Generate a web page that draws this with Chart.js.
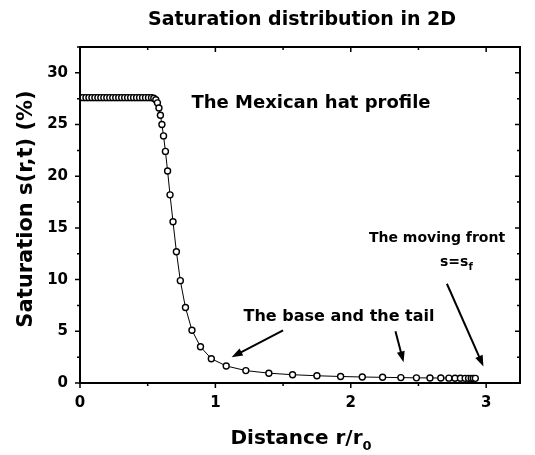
<!DOCTYPE html>
<html>
<head>
<meta charset="utf-8">
<script src="https://cdn.jsdelivr.net/npm/chart.js@4"></script>
<style>
  html, body { margin: 0; padding: 0; background: #fff; }
  #wrap { width: 535px; height: 455px; position: relative; }
</style>
</head>
<body>
<div id="wrap"><canvas id="c" width="535" height="455"></canvas></div>
<script>
// Distance r/r0
const distance = [
  0, 0.022, 0.044, 0.066, 0.088, 0.110, 0.132, 0.154, 0.176, 0.198,
  0.220, 0.242, 0.264, 0.286, 0.308, 0.330, 0.352, 0.374, 0.396, 0.418,
  0.440, 0.462, 0.484, 0.506, 0.528, 0.545, 0.560, 0.572, 0.583, 0.594,
  0.605, 0.617, 0.631, 0.647, 0.665, 0.687, 0.712, 0.741, 0.779, 0.827,
  0.890, 0.970, 1.080, 1.225, 1.395, 1.570, 1.750, 1.925, 2.085, 2.235,
  2.370, 2.485, 2.585, 2.665, 2.725, 2.770, 2.810, 2.845, 2.870, 2.890,
  2.905, 2.920
];
// Saturation s(r,t) (%)
const saturation = [
  27.6, 27.6, 27.6, 27.6, 27.6, 27.6, 27.6, 27.6, 27.6, 27.6,
  27.6, 27.6, 27.6, 27.6, 27.6, 27.6, 27.6, 27.6, 27.6, 27.6,
  27.6, 27.6, 27.6, 27.6, 27.6, 27.55, 27.4, 27.1, 26.6, 25.9,
  25.0, 23.9, 22.4, 20.5, 18.2, 15.6, 12.7, 9.9, 7.3, 5.1,
  3.5, 2.35, 1.65, 1.2, 0.95, 0.8, 0.7, 0.63, 0.58, 0.55,
  0.52, 0.50, 0.49, 0.48, 0.47, 0.46, 0.46, 0.45, 0.45, 0.45,
  0.45, 0.45
];
const xTickLabels = ['0', '1', '2', '3'];
const yTickLabels = ['0', '5', '10', '15', '20', '25', '30'];

const points = distance.map((d, i) => ({ x: d, y: saturation[i] }));
const FONT = '"DejaVu Sans", Verdana, sans-serif';

const framePlugin = {
  id: 'frame',
  afterDraw(chart) {
    const ctx = chart.ctx;
    const a = chart.chartArea;
    const xs = chart.scales.x, ys = chart.scales.y;
    ctx.save();
    ctx.strokeStyle = '#000';
    ctx.lineWidth = 2;
    ctx.strokeRect(a.left, a.top, a.right - a.left, a.bottom - a.top);
    ctx.lineWidth = 1.5;
    ctx.beginPath();
    for (let v = 0; v <= 3.25; v += 0.5) {
      const p = xs.getPixelForValue(v);
      const major = Math.abs(v - Math.round(v)) < 1e-6;
      const L = major ? 5 : 3;
      ctx.moveTo(p, a.bottom); ctx.lineTo(p, a.bottom + L);
      ctx.moveTo(p, a.top); ctx.lineTo(p, a.top + L);
    }
    for (let v = 0; v <= 32.5; v += 2.5) {
      const p = ys.getPixelForValue(v);
      const major = Math.abs(v / 5 - Math.round(v / 5)) < 1e-6;
      const L = major ? 5 : 3;
      ctx.moveTo(a.left, p); ctx.lineTo(a.left - L, p);
      ctx.moveTo(a.right, p); ctx.lineTo(a.right - L, p);
    }
    ctx.stroke();

    // Texts
    ctx.fillStyle = '#000';
    ctx.textBaseline = 'middle';
    ctx.textAlign = 'center';
    ctx.font = 'bold 19px ' + FONT;
    ctx.fillText('Saturation distribution in 2D', 302, 20);

    // x axis title with subscript
    ctx.textAlign = 'left';
    ctx.font = 'bold 20px ' + FONT;
    const t1 = 'Distance r/r';
    const w1 = ctx.measureText(t1).width;
    ctx.font = 'bold 13px ' + FONT;
    const w2 = ctx.measureText('0').width;
    const x0 = 301 - (w1 + w2) / 2;
    ctx.font = 'bold 20px ' + FONT;
    ctx.fillText(t1, x0, 439);
    ctx.font = 'bold 13px ' + FONT;
    ctx.fillText('0', x0 + w1, 447);

    // y axis title
    ctx.save();
    ctx.translate(27, 209);
    ctx.rotate(-Math.PI / 2);
    ctx.textAlign = 'center';
    ctx.font = 'bold 21px ' + FONT;
    ctx.fillText('Saturation s(r,t) (%)', 0, 0);
    ctx.restore();

    // Annotations
    ctx.textAlign = 'center';
    ctx.font = 'bold 18px ' + FONT;
    ctx.fillText('The Mexican hat profile', 311, 103);
    ctx.font = 'bold 14px ' + FONT;
    ctx.fillText('The moving front', 437, 238);
    ctx.font = 'bold 16px ' + FONT;
    ctx.fillText('The base and the tail', 339, 317);
    // s = s_f
    ctx.textAlign = 'left';
    ctx.font = 'bold 14px ' + FONT;
    const t3 = 's=s';
    const w3 = ctx.measureText(t3).width;
    ctx.fillText(t3, 440, 262);
    ctx.font = 'bold 10px ' + FONT;
    ctx.fillText('f', 440 + w3, 267);

    // Arrows (data coordinates)
    const arrow = (x1, y1, x2, y2) => {
      const px1 = xs.getPixelForValue(x1), py1 = ys.getPixelForValue(y1);
      const px2 = xs.getPixelForValue(x2), py2 = ys.getPixelForValue(y2);
      const ang = Math.atan2(py2 - py1, px2 - px1);
      const hl = 11, hw = 4;
      ctx.lineWidth = 2;
      ctx.beginPath();
      ctx.moveTo(px1, py1);
      ctx.lineTo(px2 - Math.cos(ang) * hl * 0.8, py2 - Math.sin(ang) * hl * 0.8);
      ctx.stroke();
      ctx.beginPath();
      ctx.moveTo(px2, py2);
      ctx.lineTo(px2 - Math.cos(ang) * hl - Math.sin(ang) * hw, py2 - Math.sin(ang) * hl + Math.cos(ang) * hw);
      ctx.lineTo(px2 - Math.cos(ang) * hl + Math.sin(ang) * hw, py2 - Math.sin(ang) * hl - Math.cos(ang) * hw);
      ctx.closePath();
      ctx.fill();
    };
    arrow(1.50, 5.1, 1.12, 2.5);
    arrow(2.33, 5.0, 2.39, 2.0);
    arrow(2.71, 9.6, 2.98, 1.6);
    ctx.restore();
  }
};

new Chart(document.getElementById('c'), {
  type: 'scatter',
  data: {
    datasets: [{
      data: points,
      showLine: true,
      borderColor: '#000',
      borderWidth: 1,
      pointRadius: 3,
      pointBorderWidth: 1.4,
      pointBackgroundColor: '#fff',
      pointBorderColor: '#000',
      tension: 0
    }]
  },
  options: {
    responsive: false,
    animation: false,
    devicePixelRatio: 1,
    layout: { padding: { left: 0, right: 15, top: 47, bottom: 0 } },
    plugins: { legend: { display: false }, tooltip: { enabled: false }, title: { display: false } },
    scales: {
      x: {
        type: 'linear',
        min: 0, max: 3.25,
        grid: { display: false, drawTicks: true, tickLength: 5 },
        border: { display: false },
        afterBuildTicks: (s) => { s.ticks = xTickLabels.map(v => ({ value: Number(v) })); },
        ticks: {
          autoSkip: false,
          padding: 6,
          color: '#000',
          font: { family: FONT, size: 15, weight: 'bold' },
          callback: (v) => String(v)
        },
        afterFit: (s) => { s.height = 72; }
      },
      y: {
        type: 'linear',
        min: 0, max: 32.5,
        grid: { display: false, drawTicks: true, tickLength: 5 },
        border: { display: false },
        afterBuildTicks: (s) => { s.ticks = yTickLabels.map(v => ({ value: Number(v) })); },
        ticks: {
          autoSkip: false,
          padding: 7,
          color: '#000',
          font: { family: FONT, size: 15, weight: 'bold' },
          callback: (v) => String(v)
        },
        afterFit: (s) => { s.width = 80; }
      }
    }
  },
  plugins: [framePlugin]
});
</script>
</body>
</html>
